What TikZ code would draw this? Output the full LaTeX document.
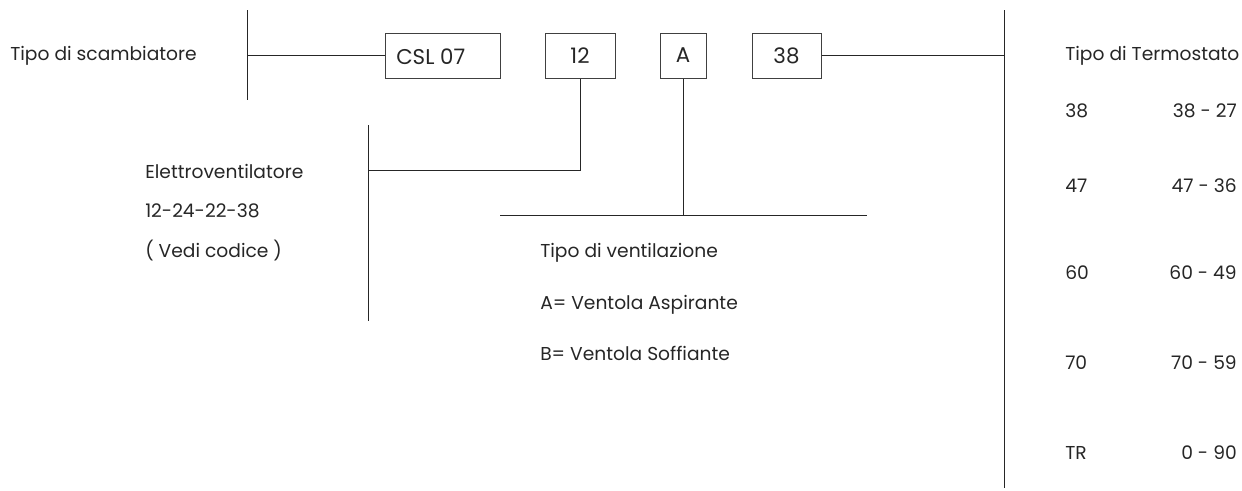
\documentclass[tikz,border=0pt]{standalone}
\usepackage{fontspec}
\setmainfont{Poppins}
\begin{document}
\begin{tikzpicture}[x=0.75pt,y=-0.75pt,
  ln/.style={line width=0.75pt,draw=black!85},
  codebox/.style={draw=black!75,line width=0.75pt,minimum height=33.75pt,inner sep=0pt,font=\fontsize{16}{18}\selectfont,text=black!85},
  lbl/.style={anchor=west,inner sep=0pt,font=\fontsize{14}{16}\selectfont,text=black!85},
  lblr/.style={anchor=east,inner sep=0pt,font=\fontsize{14}{16}\selectfont,text=black!85}]
\useasboundingbox (0,0) rectangle (1242,490);
% code boxes
\node[codebox,minimum width=86.25pt] (csl) at (442.5,55.5) {};
\node[anchor=west,inner sep=0pt,font=\fontsize{16}{18}\selectfont,text=black!85] (csltxt) at (396,57) {CSL 07};
\node[codebox,minimum width=52.5pt] (b12) at (580,55.5) {12};
\node[codebox,minimum width=34.5pt] (bA) at (683,55.5) {A};
\node[codebox,minimum width=51.75pt] (b38) at (786.5,55.5) {38};
% main bus
\coordinate (lt) at (247,10);
\coordinate (lb) at (247,100);
\coordinate (lm) at (247,55.5);
\draw[ln] (lt) -- (lb);
\draw[ln] (lm) -- (csl.west);
\coordinate (rt) at (1004,10);
\coordinate (rb) at (1004,488);
\coordinate (rm) at (1004,55.5);
\draw[ln] (rt) -- (rb);
\draw[ln] (b38.east) -- (rm);
% electroventilatore branch
\coordinate (e1) at (580,170);
\coordinate (e2) at (368,170);
\coordinate (et) at (368,125);
\coordinate (eb) at (368,321);
\draw[ln] (b12.south) -- (e1) -- (e2);
\draw[ln] (et) -- (eb);
% ventilazione branch
\coordinate (v1) at (683,215);
\coordinate (vl) at (500,215);
\coordinate (vr) at (867,215);
\draw[ln] (bA.south) -- (v1);
\draw[ln] (vl) -- (vr);
% labels
\node[lbl] (t1) at (10,56) {Tipo di scambiatore};
\node[lbl] (t2) at (145,171) {Elettroventilatore};
\node[lbl] (t3) at (145,211) {12-24-22-38};
\node[lbl] (t4) at (145,251) {( Vedi codice )};
\node[lbl] (t5) at (540,253) {Tipo di ventilazione};
\node[lbl] (t6) at (540,305) {A= Ventola Aspirante};
\node[lbl] (t7) at (540,353) {B= Ventola Soffiante};
\node[lbl] (t8) at (1065,56) {Tipo di Termostato};
\node[lbl] (r1a) at (1065,111) {38};
\node[lblr] (r1b) at (1237,111) {38 - 27};
\node[lbl] (r2a) at (1065,186) {47};
\node[lblr] (r2b) at (1237,186) {47 - 36};
\node[lbl] (r3a) at (1065,273) {60};
\node[lblr] (r3b) at (1237,273) {60 - 49};
\node[lbl] (r4a) at (1065,363) {70};
\node[lblr] (r4b) at (1237,363) {70 - 59};
\node[lbl] (r5a) at (1065,453) {TR};
\node[lblr] (r5b) at (1237,453) {0 - 90};
\end{tikzpicture}
\end{document}
